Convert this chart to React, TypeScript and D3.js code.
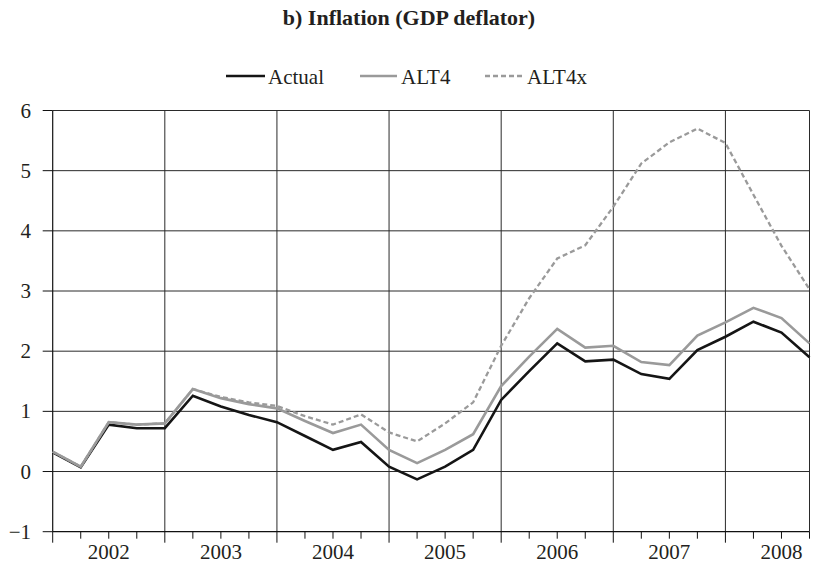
import React from "react";
import * as d3 from "d3";

const years = ["2002", "2003", "2004", "2005", "2006", "2007", "2008"];
const yTicks = [-1, 0, 1, 2, 3, 4, 5, 6];

const actual = [0.32, 0.07, 0.78, 0.72, 0.72, 1.26, 1.08, 0.94, 0.82, 0.59, 0.36, 0.49, 0.08, -0.13, 0.08, 0.36, 1.19, 1.67, 2.13, 1.83, 1.86, 1.62, 1.54, 2.02, 2.24, 2.49, 2.31, 1.9];
const alt4 = [0.33, 0.08, 0.82, 0.78, 0.8, 1.37, 1.22, 1.12, 1.05, 0.84, 0.64, 0.78, 0.36, 0.14, 0.36, 0.62, 1.42, 1.91, 2.37, 2.06, 2.09, 1.82, 1.77, 2.26, 2.48, 2.72, 2.55, 2.13];
const alt4x = [0.33, 0.08, 0.82, 0.78, 0.8, 1.37, 1.24, 1.15, 1.09, 0.92, 0.78, 0.95, 0.65, 0.5, 0.8, 1.15, 2.09, 2.88, 3.54, 3.76, 4.4, 5.12, 5.47, 5.7, 5.46, 4.6, 3.75, 3.03];

const seriesNames = ["Actual", "ALT4", "ALT4x"];
const title = "b) Inflation (GDP deflator)";

const W = 815;
const H = 566;
const FONT = "'Liberation Serif', 'Times New Roman', serif";

export default function App() {
  const n = actual.length;
  const x = d3.scaleLinear().domain([0, n - 1]).range([52.7, 809.5]);
  const y = d3.scaleLinear().domain([-1, 6]).range([531.7, 110.5]);
  const line = d3
    .line<number>()
    .x((_, i) => x(i))
    .y((v) => y(v));

  const idx = d3.range(n);
  const gridColor = "#2a2a2a";

  const series = [
    { name: seriesNames[0], data: actual, color: "#151515", width: 2.6, dash: undefined as string | undefined },
    { name: seriesNames[1], data: alt4, color: "#9a9a9a", width: 2.6, dash: undefined as string | undefined },
    { name: seriesNames[2], data: alt4x, color: "#9a9a9a", width: 2.3, dash: "5,3" },
  ];

  const legendPos = [
    { x1: 226, x2: 265, tx: 268 },
    { x1: 360, x2: 397, tx: 401 },
    { x1: 485, x2: 523, tx: 527 },
  ];

  return (
    <svg
      width={W}
      height={H}
      style={{ position: "absolute", left: 0, top: 0, background: "#fff" }}
      fontFamily={FONT}
    >
      <rect x={0} y={0} width={W} height={H} fill="#fff" />
      <text x={409} y={25} textAnchor="middle" fontSize={22} fontWeight="bold" fill="#231f20">
        {title}
      </text>

      {/* legend */}
      {series.map((s, i) => (
        <g key={s.name}>
          <line
            x1={legendPos[i].x1}
            x2={legendPos[i].x2}
            y1={76}
            y2={76}
            stroke={s.color}
            strokeWidth={s.width}
            strokeDasharray={s.dash}
          />
          <text x={legendPos[i].tx} y={84} fontSize={21} fill="#231f20">
            {s.name}
          </text>
        </g>
      ))}

      {/* horizontal gridlines */}
      {yTicks.filter((t) => t > -1).map((t) => (
        <line key={"h" + t} x1={x(0)} x2={x(n - 1)} y1={y(t)} y2={y(t)} stroke={gridColor} strokeWidth={1} />
      ))}
      {/* vertical gridlines */}
      {idx.filter((i) => i > 0 && i % 4 === 0).map((i) => (
        <line key={"v" + i} x1={x(i)} x2={x(i)} y1={y(6)} y2={y(-1)} stroke={gridColor} strokeWidth={1} />
      ))}
      <line x1={x(n - 1)} x2={x(n - 1)} y1={y(6)} y2={y(-1)} stroke={gridColor} strokeWidth={1} />

      {/* y axis */}
      <line x1={x(0)} x2={x(0)} y1={y(6)} y2={y(-1)} stroke="#111" strokeWidth={1.2} />
      {yTicks.map((t) => (
        <g key={"yt" + t}>
          <line x1={x(0) - 10} x2={x(0)} y1={y(t)} y2={y(t)} stroke="#111" strokeWidth={1} />
          <text x={31} y={y(t)} dy="0.34em" textAnchor="end" fontSize={21} fill="#231f20">
            {t < 0 ? "\u2212" + Math.abs(t) : String(t)}
          </text>
        </g>
      ))}

      {/* x axis */}
      <line x1={x(0)} x2={x(n - 1)} y1={y(-1)} y2={y(-1)} stroke="#111" strokeWidth={1.2} />
      {idx.map((i) => (
        <line
          key={"xt" + i}
          x1={x(i)}
          x2={x(i)}
          y1={y(-1)}
          y2={y(-1) + (i % 4 === 0 ? 11 : 7)}
          stroke="#111"
          strokeWidth={1}
        />
      ))}
      {years.map((yr, k) => (
        <text key={yr} x={x(4 * k + 2)} y={558.5} textAnchor="middle" fontSize={21} fill="#231f20">
          {yr}
        </text>
      ))}

      {/* series */}
      {series.map((s) => (
        <path
          key={"p" + s.name}
          d={line(s.data) || ""}
          fill="none"
          stroke={s.color}
          strokeWidth={s.width}
          strokeDasharray={s.dash}
          strokeLinejoin="miter"
        />
      ))}
    </svg>
  );
}
